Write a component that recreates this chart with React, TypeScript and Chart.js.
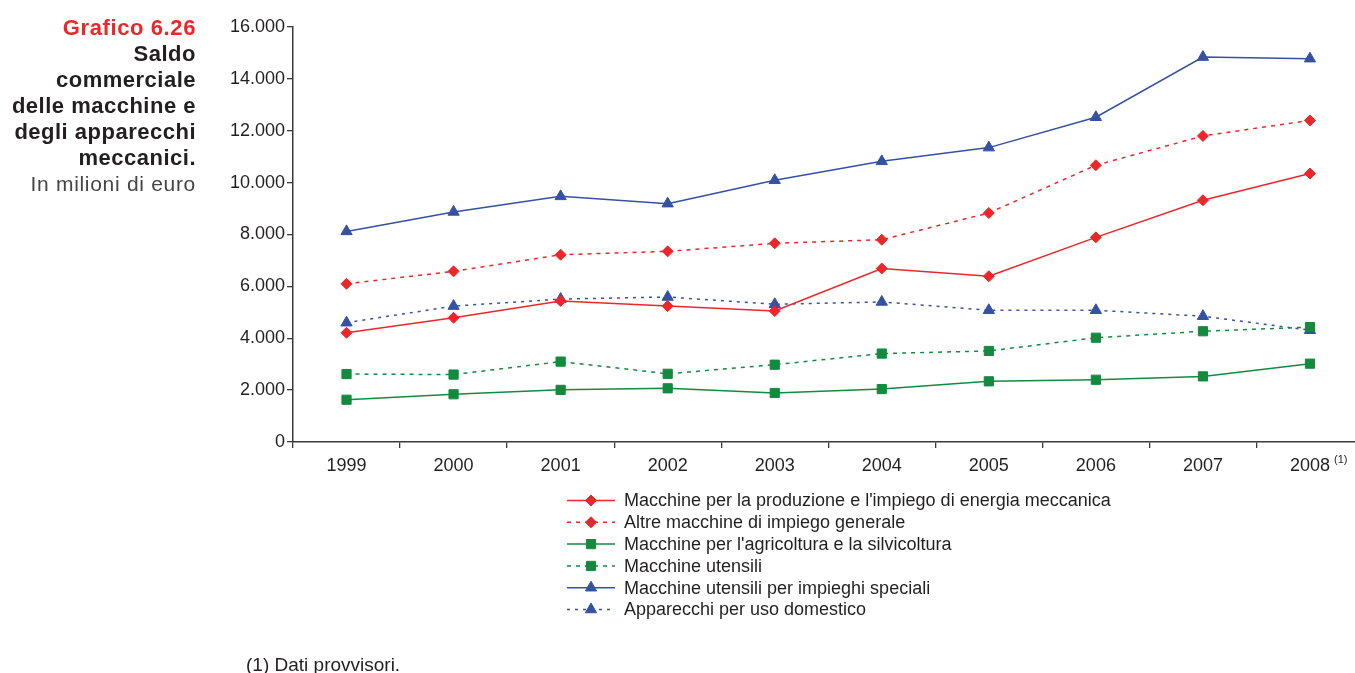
import React, { useEffect, useRef } from "react";
import { Chart, registerables } from "chart.js";
import { drawPoint } from "chart.js/helpers";

Chart.register(...registerables);

// ---------- data ----------
const years = ["1999", "2000", "2001", "2002", "2003", "2004", "2005", "2006", "2007", "2008"];
const produzioneEnergia = [4210, 4790, 5440, 5240, 5050, 6690, 6390, 7890, 9320, 10350];
const altreMacchine = [6100, 6580, 7220, 7350, 7660, 7800, 8830, 10670, 11800, 12400];
const agricoltura = [1630, 1840, 2010, 2070, 1890, 2040, 2340, 2400, 2530, 3020];
const utensili = [2620, 2600, 3100, 2630, 2980, 3410, 3510, 4020, 4270, 4430];
const impieghiSpeciali = [8120, 8870, 9470, 9190, 10090, 10820, 11350, 12520, 14840, 14780];
const usoDomestico = [4600, 5240, 5510, 5590, 5310, 5400, 5080, 5080, 4850, 4310];

const seriesNames = [
  "Macchine per la produzione e l'impiego di energia meccanica",
  "Altre macchine di impiego generale",
  "Macchine per l'agricoltura e la silvicoltura",
  "Macchine utensili",
  "Macchine utensili per impieghi speciali",
  "Apparecchi per uso domestico",
];
const yMin = 0;
const yMax = 16000;
const yStep = 2000;
const lastLabelNote = "(1)";
const titleLines = ["Saldo", "commerciale", "delle macchine e", "degli apparecchi", "meccanici."];
const titleHead = "Grafico 6.26";
const titleUnit = "In milioni di euro";
const footnote = "(1) Dati provvisori.";

const RED = "#ec2629";
const GREEN = "#148a3f";
const BLUE = "#3451a4";
const TEXT = "#231f20";
const FONT = "'Liberation Sans', Arial, Helvetica, sans-serif";

const CANVAS_W = 1371;

const fmt = (v: number) => String(v).replace(/\B(?=(\d{3})+(?!\d))/g, ".");

const lineLegendPlugin = {
  id: "lineLegend",
  afterDraw(chart: any, _args: any, opts: any) {
    const ctx = chart.ctx;
    ctx.save();
    chart.data.datasets.forEach((ds: any, i: number) => {
      const y = opts.y + i * opts.rowGap;
      ctx.beginPath();
      ctx.strokeStyle = ds.borderColor;
      ctx.lineWidth = ds.borderWidth;
      ctx.setLineDash(ds.borderDash || []);
      ctx.moveTo(opts.x, y);
      ctx.lineTo(opts.x + opts.lineLen, y);
      ctx.stroke();
      ctx.setLineDash([]);
      ctx.fillStyle = ds.pointBackgroundColor;
      ctx.strokeStyle = ds.pointBorderColor;
      ctx.lineWidth = 1;
      drawPoint(ctx, { pointStyle: ds.pointStyle, radius: ds.pointRadius, rotation: 0, borderWidth: 1 }, opts.x + opts.lineLen / 2, y);
      ctx.fillStyle = TEXT;
      ctx.font = `${opts.fontSize}px ${FONT}`;
      ctx.textAlign = "left";
      ctx.textBaseline = "middle";
      ctx.fillText(ds.label, opts.x + opts.lineLen + opts.textGap, y + 1);
    });
    ctx.restore();
  },
};

const noteMarkPlugin = {
  id: "noteMark",
  afterDraw(chart: any, _args: any, opts: any) {
    const xs = chart.scales.x;
    const ctx = chart.ctx;
    const idx = chart.data.labels.length - 1;
    const px = xs.getPixelForValue(idx);
    ctx.save();
    ctx.font = `18px ${FONT}`;
    const w = ctx.measureText(String(chart.data.labels[idx])).width;
    ctx.font = `11px ${FONT}`;
    ctx.fillStyle = TEXT;
    ctx.textAlign = "left";
    ctx.textBaseline = "middle";
    ctx.fillText(opts.text, px + w / 2 + 4, xs.top + 18);
    ctx.restore();
  },
};

function makeDataset(label: string, data: number[], color: string, style: string, radius: number, dashed: boolean, dash: number[]) {
  return {
    label,
    data,
    borderColor: color,
    backgroundColor: color,
    borderWidth: 1.5,
    borderDash: dashed ? dash : [],
    pointStyle: style,
    pointRadius: radius,
    pointBackgroundColor: color,
    pointBorderColor: color,
    pointBorderWidth: 1,
    tension: 0,
    fill: false,
  };
}

export default function App() {
  const ref = useRef<HTMLCanvasElement | null>(null);

  useEffect(() => {
    if (!ref.current) return;
    const chart = new Chart(ref.current, {
      type: "line",
      data: {
        labels: years,
        datasets: [
          makeDataset(seriesNames[0], produzioneEnergia, RED, "rectRot", 5.5, false, []),
          makeDataset(seriesNames[1], altreMacchine, RED, "rectRot", 5.5, true, [4, 5]),
          makeDataset(seriesNames[2], agricoltura, GREEN, "rect", 6.5, false, []),
          makeDataset(seriesNames[3], utensili, GREEN, "rect", 6.5, true, [4, 5]),
          makeDataset(seriesNames[4], impieghiSpeciali, BLUE, "triangle", 6.5, false, []),
          makeDataset(seriesNames[5], usoDomestico, BLUE, "triangle", 6.5, true, [3, 5]),
        ] as any,
      },
      options: {
        responsive: false,
        animation: false,
        devicePixelRatio: 1,
        layout: { padding: { top: 27, left: 0, right: 0, bottom: 0 } },
        plugins: {
          legend: { display: false },
          tooltip: { enabled: false },
          lineLegend: { x: 567, y: 500.5, rowGap: 21.8, lineLen: 48, textGap: 9, fontSize: 18 },
          noteMark: { text: lastLabelNote },
        } as any,
        scales: {
          x: {
            type: "category",
            offset: true,
            grid: { offset: true, drawOnChartArea: false, drawTicks: true, tickLength: 6, color: "#3a3a3a", lineWidth: 1.3 },
            border: { color: "#3a3a3a", width: 1.5 },
            ticks: { color: TEXT, font: { family: FONT, size: 18 }, padding: 7, maxRotation: 0, autoSkip: false },
            afterFit: (s: any) => {
              s.height = 673 - 442;
            },
          },
          y: {
            min: yMin,
            max: yMax,
            grid: { drawOnChartArea: false, drawTicks: true, tickLength: 6, color: "#3a3a3a", lineWidth: 1.3 },
            border: { color: "#3a3a3a", width: 1.5 },
            ticks: {
              stepSize: yStep,
              color: TEXT,
              font: { family: FONT, size: 18 },
              padding: 2,
              callback: (v: any) => fmt(Number(v)),
            },
            afterFit: (s: any) => {
              s.width = 293;
            },
          },
        } as any,
      },
      plugins: [lineLegendPlugin, noteMarkPlugin],
    });
    return () => chart.destroy();
  }, []);

  return (
    <div
      style={{
        position: "fixed",
        left: 0,
        top: 0,
        width: 1355,
        height: 673,
        overflow: "hidden",
        background: "#ffffff",
        fontFamily: FONT,
      }}
    >
      <canvas ref={ref} width={CANVAS_W} height={673} style={{ position: "absolute", left: 0, top: 0, width: CANVAS_W, height: 673 }} />
      <div
        style={{
          position: "absolute",
          left: 0,
          top: 15,
          width: 196,
          textAlign: "right",
          lineHeight: "26px",
          fontSize: 22,
          color: TEXT,
        }}
      >
        <div style={{ fontWeight: "bold", color: RED, letterSpacing: "0.6px", whiteSpace: "nowrap" }}>{titleHead}</div>
        {titleLines.map((t) => (
          <div key={t} style={{ fontWeight: "bold", letterSpacing: "0.5px", whiteSpace: "nowrap" }}>
            {t}
          </div>
        ))}
        <div style={{ fontSize: 21, color: "#444", letterSpacing: "0.7px", whiteSpace: "nowrap" }}>{titleUnit}</div>
      </div>
      <div
        style={{
          position: "absolute",
          left: 246,
          top: 654,
          fontSize: 19,
          color: TEXT,
          whiteSpace: "nowrap",
        }}
      >
        {footnote}
      </div>
    </div>
  );
}
